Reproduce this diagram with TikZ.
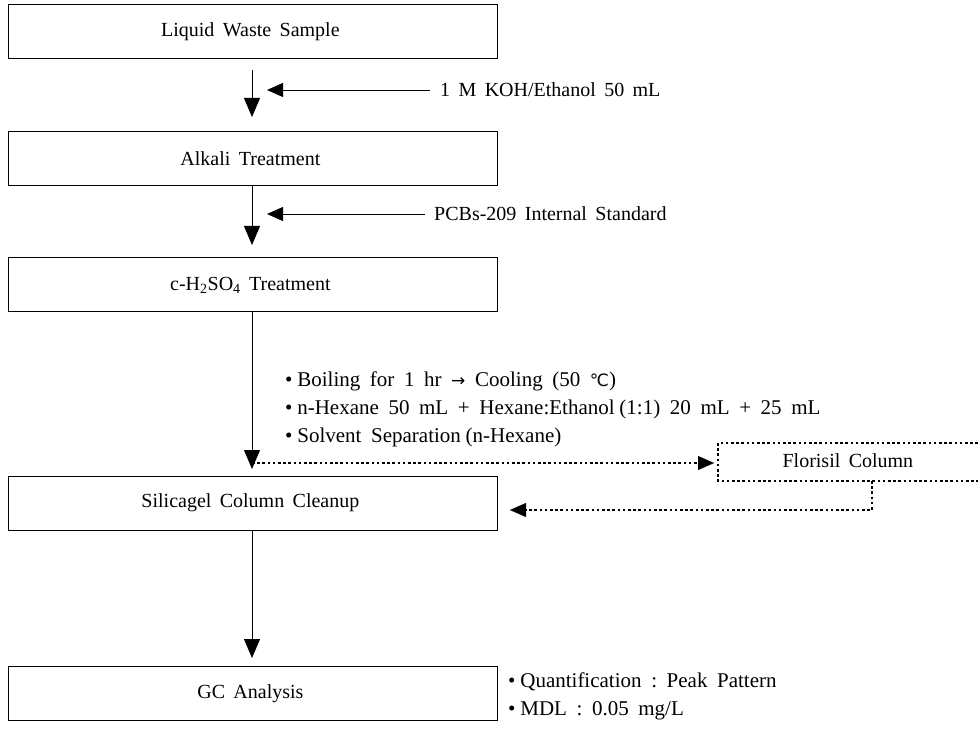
\documentclass[tikz,border=0pt]{standalone}
\usepackage{fontspec}
\setmainfont{Liberation Serif}
\usetikzlibrary{arrows.meta}
\newcommand\bltfont{\fontsize{21}{23}\selectfont\spaceskip=4.8pt plus 1pt\relax}
\tikzset{
  stepbox/.style={draw, line width=1pt, minimum width=489pt, minimum height=54pt, inner sep=0pt, font=\fontsize{20}{22}\selectfont},
  flow/.style={line width=0.8pt, -{Triangle[width=16pt,length=19pt]}},
  side/.style={line width=0.8pt, -{Triangle[width=14pt,length=16pt]}},
  dotline/.style={line width=2.8pt, dash pattern=on 2.6pt off 2.6pt},
  lab/.style={anchor=west, inner sep=0pt, font=\fontsize{20}{22}\selectfont},
  blt/.style={anchor=west, inner sep=0pt, font=\bltfont},
}
\newfontfamily\symfont{DejaVu Sans}
\begin{document}
\begin{tikzpicture}[x=1pt,y=-1pt]
\useasboundingbox (0,0) rectangle (978,730);
\spaceskip=4.2pt plus 1pt\relax
\node[stepbox] (b1) at (252.5,32) {Liquid\ \ Waste\ \ Sample};
\node[stepbox] (b2) at (252.5,159) {Alkali\ \ Treatment};
\node[stepbox] (b3) at (252.5,285) {c-H\textsubscript{2}SO\textsubscript{4}\ \ Treatment};
\node[stepbox] (b4) at (252.5,503) {Silicagel\ \ Column\ \ Cleanup};
\node[stepbox] (b5) at (252.5,693.5) {GC\ \ Analysis};
% Florisil box (dotted, runs off the right edge)
\coordinate (ftl) at (718,443);
\coordinate (fbl) at (718,481);
\coordinate (ftr) at (978,443);
\coordinate (fbr) at (978,481);
\node[font=\fontsize{20}{22}\selectfont, inner sep=0pt] (fl) at (850,461) {Florisil\ \ Column};
\draw[dotline] (ftr) -- (ftl) -- (fbl) -- (fbr);

% main trunk
\coordinate (a1s) at (252,70);
\coordinate (a1e) at (252,117);
\draw[flow] (a1s) -- (a1e);
\coordinate (a2e) at (252,245);
\draw[flow] (b2.south -| a2e) -- (a2e);
\coordinate (a3e) at (252,469);
\draw[flow] (b3.south -| a3e) -- (a3e);
\coordinate (a4e) at (252,658);
\draw[flow] (b4.south -| a4e) -- (a4e);

% side inputs
\node[lab] (k) at (440,90) {1\ \ M\ \ KOH/Ethanol\ \ 50\ \ mL};
\coordinate (k0) at (430,90);
\coordinate (k1) at (267,90);
\draw[side] (k0) -- (k1);
\node[lab] (p) at (434,214) {PCBs-209\ \ Internal\ \ Standard};
\coordinate (p0) at (425,214);
\coordinate (p1) at (267,214);
\draw[side] (p0) -- (p1);

% bullets
\node[blt] (t1) at (285,381) {\textbullet\ Boiling\ \ for\ \ 1\ \ hr\ \ {\symfont\fontsize{17}{18}\selectfont →}\ \ Cooling\ \ (50\ \ {\symfont\fontsize{17}{18}\selectfont ℃})};
\node[blt] (t2) at (285,409) {\textbullet\ n-Hexane\ \ 50\ \ mL\ \ +\ \ Hexane:Ethanol\ (1:1)\ \ 20\ \ mL\ \ +\ \ 25\ \ mL};
\node[blt] (t3) at (285,437) {\textbullet\ Solvent\ \ Separation\ (n-Hexane)};

% dotted detour
\coordinate (d0) at (252,463);
\coordinate (d1) at (714,463);
\draw[dotline] (d0) -- (700,463);
\draw[side, line width=0.1pt] (700,463) -- (d1);
\coordinate (r0) at (872,481);
\coordinate (r1) at (872,510);
\coordinate (r2) at (510,510);
\draw[dotline] (r0) -- (r1) -- (524,510);
\draw[side, line width=0.1pt] (524,510) -- (r2);

% GC notes
\node[blt] (q1) at (508,682) {\textbullet\ Quantification\ \ :\ \ Peak\ \ Pattern};
\node[blt] (q2) at (508,711) {\textbullet\ MDL\ \ :\ \ 0.05\ \ mg/L};
\end{tikzpicture}
\end{document}
